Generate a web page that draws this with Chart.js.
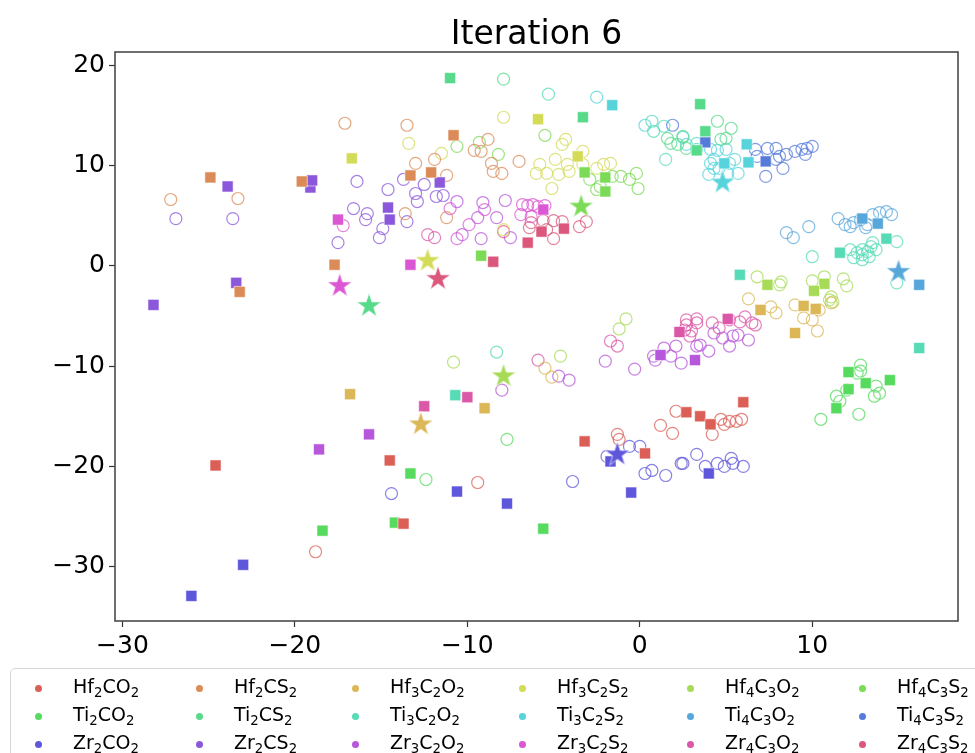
<!DOCTYPE html>
<html>
<head>
<meta charset="utf-8">
<script src="https://cdn.jsdelivr.net/npm/chart.js@4.4.1/dist/chart.umd.min.js"></script>
<style>
    html, body { margin: 0; padding: 0; background: #fff; }
    #wrap { position: relative; width: 975px; height: 753px; overflow: hidden; }
    #legend {
        position: absolute; left: 10px; top: 668px; width: 1000px; height: 120px;
        border: 1px solid #d6d6d6; border-radius: 5px;
        font-family: "DejaVu Sans", sans-serif; font-size: 19px; color: #000;
    }
    .item { position: absolute; white-space: nowrap; line-height: 19px; }
    .dot { position: absolute; width: 7px; height: 7px; border-radius: 50%; }
    sub { font-size: 0.7em; vertical-align: -0.3em; line-height: 0; }
</style>
</head>
<body>
<div id="wrap">
    <canvas id="chart" width="975" height="753"></canvas>
    <div id="legend"></div>
</div>
<script>
// material names, legend order
const materials = [
    "Hf2CO2", "Hf2CS2", "Hf3C2O2", "Hf3C2S2", "Hf4C3O2", "Hf4C3S2",
    "Ti2CO2", "Ti2CS2", "Ti3C2O2", "Ti3C2S2", "Ti4C3O2", "Ti4C3S2",
    "Zr2CO2", "Zr2CS2", "Zr3C2O2", "Zr3C2S2", "Zr4C3O2", "Zr4C3S2"
];

// hollow circles (candidate pool), one list per material
const pool = [
    // Hf2CO2
    [[-18.8, -28.5], [-9.4, -21.6], [-1.3, -16.8], [-1.2, -17.3], [1.2, -15.9], [1.9, -16.7], [2.1, -14.5],
     [4.7, -15.3], [5.2, -15.5], [5.6, -15.5], [5.9, -15.3], [4.2, -16.8], [4.9, -15.8]],
    // Hf2CS2
    [[-17.1, 14.2], [-13.5, 14.0], [-27.2, 6.6], [-23.3, 6.7], [-13.6, 5.2], [-8.8, 12.6], [-9.6, 11.5],
     [-9.2, 11.4], [-8.6, 10.2], [-8.5, 9.4], [-8.0, 9.2], [-7.0, 10.4], [-11.9, 10.6], [-13.0, 10.2],
     [-11.2, 9.0], [-11.2, 4.8]],
    // Hf3C2O2
    [[6.3, -3.3], [7.6, -4.1], [7.9, -4.7], [9.0, -3.9], [9.5, -5.2], [10.0, -5.4], [10.3, -6.5],
     [11.1, -3.7], [10.4, -4.4], [-5.5, -10.2], [-5.1, -11.1]],
    // Hf3C2S2
    [[-13.4, 12.2], [-7.9, 14.8], [-11.5, 11.2], [-7.9, 3.6], [-5.8, 10.1], [-4.9, 10.6], [-4.3, 12.6],
     [-4.5, 12.1], [-4.2, 10.1], [-3.3, 11.4], [-6.0, 9.2], [-5.4, 9.2], [-4.7, 9.1], [-4.1, 9.4],
     [-5.1, 7.7], [-2.5, 9.7], [-2.1, 10.1], [-1.7, 10.2], [-3.3, 10.1]],
    // Hf4C3O2
    [[6.8, -1.1], [8.1, -1.9], [8.2, -1.6], [10.0, -1.5], [10.7, -1.1], [11.8, -1.3], [12.0, -2.0],
     [11.1, -3.1], [11.2, -3.6], [11.0, -3.4], [-0.8, -5.3], [-1.2, -6.3], [-10.8, -9.6], [-4.6, -9.0]],
    // Hf4C3S2
    [[-9.3, 12.3], [-10.6, 11.9], [-8.2, 11.1], [-5.5, 13.0], [-2.9, 8.6], [-2.3, 7.9], [-1.6, 8.9],
     [-1.1, 8.9], [-0.6, 8.6], [-0.2, 9.2], [-0.1, 7.7], [-2.5, 7.6]],
    // Ti2CO2
    [[12.8, -9.9], [12.6, -10.7], [13.7, -12.0], [13.9, -12.7], [13.6, -13.0], [12.0, -12.4], [11.4, -13.0],
     [11.6, -13.5], [10.5, -15.3], [12.7, -14.8], [12.8, -10.5], [-7.7, -17.3], [-12.4, -21.3]],
    // Ti2CS2
    [[-7.9, 18.6], [4.5, 14.4], [5.3, 13.7], [5.0, 12.7], [4.7, 12.6], [1.6, 12.7], [1.8, 12.2],
     [2.2, 12.1], [2.5, 12.9], [2.7, 11.7]],
    // Ti3C2O2
    [[-5.3, 17.1], [0.7, 14.4], [0.8, 13.4], [1.4, 13.9], [3.3, 12.2], [3.3, 11.6], [1.5, 10.6],
     [10.0, 0.9], [12.2, 1.6], [12.6, 1.3], [12.9, 1.6], [13.2, 1.4], [13.4, 1.9], [13.7, 1.6],
     [12.4, 0.8], [12.9, 0.6], [13.3, 0.9], [13.5, 2.3], [14.9, 2.4], [12.9, 1.1], [14.9, -1.7], [-8.3, -8.6]],
    // Ti3C2S2
    [[-2.5, 16.8], [0.3, 14.0], [2.5, 12.8], [2.7, 12.1], [4.1, 11.6], [4.5, 11.5], [5.0, 11.6],
     [4.1, 10.2], [4.3, 10.6], [5.5, 10.6], [5.2, 10.2], [4.6, 9.7], [4.0, 9.1], [5.7, 9.2],
     [5.1, 9.2], [4.3, 9.7]],
    // Ti4C3O2
    [[8.5, 3.3], [8.9, 2.8], [9.8, 3.9], [11.5, 4.7], [11.9, 4.1], [12.4, 4.3], [12.8, 4.6],
     [13.2, 4.1], [13.5, 5.1], [13.9, 5.3], [14.3, 5.4], [14.6, 5.1], [13.1, 3.8], [12.2, 3.9]],
    // Ti4C3S2
    [[1.9, 14.0], [6.7, 11.6], [7.4, 11.7], [7.9, 11.7], [8.1, 10.9], [8.5, 11.1], [9.0, 11.4],
     [9.4, 11.6], [9.7, 11.7], [10.0, 11.9], [9.6, 11.1], [8.3, 9.7], [7.3, 8.9], [7.9, 10.6], [6.8, 10.9]],
    // Zr2CO2
    [[2.5, -19.7], [3.3, -18.8], [3.8, -20.0], [4.5, -19.7], [4.9, -20.0], [5.3, -19.2], [5.4, -19.7],
     [6.0, -20.0], [-0.6, -18.0], [0.0, -18.0], [-1.9, -19.0], [0.3, -20.7], [0.7, -20.4], [1.5, -20.9],
     [2.4, -19.7], [-3.9, -21.5], [-14.4, -22.7]],
    // Zr2CS2
    [[-26.9, 4.7], [-23.6, 4.7], [-16.4, 8.4], [-14.6, 7.6], [-13.7, 8.6], [-16.6, 5.7], [-15.8, 5.2],
     [-15.9, 4.6], [-13.5, 4.4], [-15.1, 2.8], [-17.5, 2.3], [-12.5, 8.1], [-13.0, 7.2], [-12.9, 6.4],
     [-11.8, 6.9], [-11.4, 7.0], [-14.9, 3.7]],
    // Zr3C2O2
    [[-10.6, 6.4], [-9.1, 6.3], [-9.4, 4.8], [-10.3, 3.1], [-9.2, 2.7], [-7.8, 6.5], [-8.3, 4.8],
     [-7.5, 2.8], [-2.0, -9.5], [-0.3, -10.3], [0.8, -9.0], [0.9, -9.4], [1.8, -9.0], [2.4, -9.7],
     [3.3, -8.0], [2.1, -8.0], [1.4, -8.2], [3.5, -7.9], [4.3, -6.7], [4.8, -7.2], [5.4, -7.0],
     [5.7, -6.9], [6.3, -7.4], [5.2, -8.0], [4.0, -8.5], [-8.0, -12.4], [-4.7, -11.0], [-4.1, -11.4]],
    // Zr3C2S2
    [[-17.2, 4.0], [-11.0, 5.7], [-9.0, 5.6], [-9.9, 4.1], [-10.6, 2.7], [-6.8, 6.1], [-6.5, 6.0],
     [-6.2, 6.1], [-5.9, 5.9], [-5.5, 6.0], [-6.9, 5.1], [-6.3, 4.9]],
    // Zr4C3O2
    [[-12.3, 3.1], [-11.9, 2.8], [-1.7, -7.5], [-1.3, -8.0], [-5.9, -9.4], [2.7, -5.4], [3.3, -5.3],
     [4.2, -5.7], [4.6, -6.2], [5.2, -5.4], [5.8, -5.6], [6.1, -5.1], [6.5, -5.7], [6.7, -5.9],
     [2.6, -6.4], [2.7, -5.9], [3.0, -6.5], [3.3, -5.7], [2.9, -7.0]],
    // Zr4C3S2
    [[-6.3, 4.3], [-5.6, 4.5], [-5.0, 4.5], [-4.5, 4.4], [-3.5, 3.9], [-3.1, 4.4], [-5.4, 3.6],
     [-5.0, 2.7], [-7.9, 3.4], [-6.4, 3.8]]
];

// filled squares (selected samples)
const picked = [
    [[-24.6, -19.9], [-14.5, -19.4], [-13.7, -25.7], [-3.2, -17.5], [0.3, -18.7], [2.7, -14.6], [3.5, -15.0], [4.1, -15.8], [6.0, -13.6]],
    [[-24.9, 8.8], [-19.6, 8.4], [-17.7, 0.1], [-23.2, -2.6], [-10.8, 13.0], [-13.3, 9.0], [-12.1, 9.3]],
    [[7.0, -4.4], [9.5, -4.0], [10.2, -4.3], [9.0, -6.7], [-16.8, -12.8], [-9.0, -14.2]],
    [[-16.7, 10.7], [-5.9, 14.6], [-3.6, 10.9]],
    [[7.4, -1.9], [10.7, -1.8], [10.1, -2.5]],
    [[-3.2, 9.3], [-2.0, 8.8], [-2.0, 7.4], [-9.2, 1.0]],
    [[12.1, -10.6], [12.1, -12.3], [13.1, -11.7], [14.5, -11.4], [11.4, -14.2], [-13.3, -20.7], [-5.6, -26.2], [-14.2, -25.6], [-18.4, -26.4]],
    [[-11.0, 18.7], [-3.3, 14.8], [3.5, 16.1], [3.8, 13.4], [3.3, 11.5]],
    [[11.6, 1.3], [14.3, 2.7], [5.8, -0.9], [16.2, -8.2], [-10.7, -12.9]],
    [[-1.6, 16.0], [4.9, 10.2], [6.2, 12.1], [6.3, 10.3]],
    [[12.9, 4.7], [13.8, 4.2], [16.2, -1.9]],
    [[3.8, 12.3], [7.3, 10.4]],
    [[4.0, -20.7], [-0.5, -22.6], [-7.7, -23.7], [-10.6, -22.5], [-23.0, -29.8], [-26.0, -32.9], [-1.7, -19.5]],
    [[-23.9, 7.9], [-19.1, 7.8], [-19.0, 8.5], [-14.6, 5.8], [-14.5, 4.6], [-11.6, 8.3], [-23.4, -1.7], [-28.2, -3.9]],
    [[1.2, -8.9], [3.2, -9.4], [-15.7, -16.8], [-18.6, -18.3]],
    [[-17.5, 4.6], [-5.6, 5.6], [-13.3, 0.1]],
    [[2.3, -6.6], [5.1, -5.3], [-10.0, -13.1], [-12.5, -14.0]],
    [[-5.7, 3.4], [-4.4, 3.7], [-6.5, 2.3], [-8.5, 0.4]]
];

// stars (best of iteration), null where none is visible
const best = [
    null, null, [-12.7, -15.7], [-12.3, 0.6], [-7.9, -10.9], [-3.4, 6.0],
    null, [-15.7, -3.9], null, [4.8, 8.4], [15.0, -0.5], null,
    [-1.3, -18.7], null, null, [-17.4, -1.9], null, [-11.7, -1.2]
];

const xTicks = [-30, -20, -10, 0, 10];
const yTicks = [-30, -20, -10, 0, 10, 20];

// seaborn hls(18) colours
const palette = [
    "#db5f57", "#db8b57", "#dbb757", "#d3db57", "#a7db57", "#7bdb57",
    "#57db5f", "#57db8b", "#57dbb7", "#57d3db", "#57a7db", "#577bdb",
    "#5f57db", "#8b57db", "#b757db", "#db57d3", "#db57a7", "#db577b"
];

function withAlpha(hex, a) {
    const n = parseInt(hex.slice(1), 16);
    return `rgba(${n >> 16},${(n >> 8) & 255},${n & 255},${a})`;
}

// filled 5-point star as a point image
function starImage(color) {
    const c = document.createElement("canvas");
    c.width = 28; c.height = 28;
    const g = c.getContext("2d");
    const R = 13, r = R * 0.382;
    g.beginPath();
    for (let k = 0; k < 10; k++) {
        const rad = k % 2 ? r : R;
        const a = -Math.PI / 2 + k * Math.PI / 5;
        g.lineTo(14 + rad * Math.cos(a), 15 + rad * Math.sin(a));
    }
    g.closePath();
    g.fillStyle = color;
    g.fill();
    g.strokeStyle = "rgba(255,255,255,0.8)";
    g.lineWidth = 0.8;
    g.stroke();
    return c;
}

const toPts = arr => arr.map(([x, y]) => ({ x, y }));

let datasets = [];
materials.forEach((name, i) => {
    datasets.push({
        label: name,
        data: toPts(pool[i]),
        pointStyle: "circle",
        pointRadius: 6,
        borderWidth: 1.2,
        borderColor: withAlpha(palette[i], 0.75),
        backgroundColor: "rgba(0,0,0,0)",
        order: 2
    });
    datasets.push({
        label: name + " picked",
        data: toPts(picked[i]),
        pointStyle: "rect",
        pointRadius: 7.8,
        borderWidth: 0.8,
        borderColor: "rgba(255,255,255,0.7)",
        backgroundColor: palette[i],
        order: 1
    });
    if (best[i]) {
        datasets.push({
            label: name + " best",
            data: toPts([best[i]]),
            pointStyle: starImage(palette[i]),
            pointRadius: 13,
            order: 0
        });
    }
});

const fmt = v => (v < 0 ? "\u2212" + Math.abs(v) : String(v));

// title + full frame drawn around the plot area
const framePlugin = {
    id: "frame",
    afterDraw(chart) {
        const { ctx, chartArea: a } = chart;
        ctx.save();
        ctx.strokeStyle = "#4a4a4a";
        ctx.lineWidth = 1.6;
        ctx.strokeRect(a.left, a.top, a.right - a.left, a.bottom - a.top);
        ctx.fillStyle = "#000";
        ctx.font = '33px "DejaVu Sans"';
        ctx.textAlign = "center";
        ctx.textBaseline = "alphabetic";
        ctx.fillText("Iteration 6", (a.left + a.right) / 2, 43.5);
        ctx.restore();
    }
};

new Chart(document.getElementById("chart").getContext("2d"), {
    type: "scatter",
    data: { datasets },
    options: {
        responsive: false,
        animation: false,
        events: [],
        layout: { padding: { top: 52, right: 17, left: 0, bottom: 0 } },
        plugins: { legend: { display: false }, tooltip: { enabled: false } },
        scales: {
            x: {
                type: "linear",
                min: -30.43, max: 18.45,
                afterFit: s => { s.height = 132; },
                afterBuildTicks: s => { s.ticks = xTicks.map(v => ({ value: v })); },
                ticks: {
                    includeBounds: false, padding: 4, color: "#000",
                    font: { family: "DejaVu Sans", size: 25 },
                    callback: fmt, maxRotation: 0
                },
                grid: { drawOnChartArea: false, tickLength: 6, color: "#333", tickWidth: 1.2 },
                border: { display: false }
            },
            y: {
                type: "linear",
                min: -35.4, max: 21.3,
                afterFit: s => { s.width = 115; },
                afterBuildTicks: s => { s.ticks = yTicks.map(v => ({ value: v })); },
                ticks: {
                    includeBounds: false, padding: 4, color: "#000",
                    font: { family: "DejaVu Sans", size: 25 },
                    callback: fmt
                },
                grid: { drawOnChartArea: false, tickLength: 6, color: "#333", tickWidth: 1.2 },
                border: { display: false }
            }
        }
    },
    plugins: [framePlugin]
});

// legend laid out in matplotlib's 6-column grid
const colX = [37, 198, 354, 521, 689, 861];
const rowY = [687, 715, 743];
const legend = document.getElementById("legend");
materials.forEach((name, i) => {
    const cx = colX[i % 6] - 10, cy = rowY[Math.floor(i / 6)] - 668;
    const dot = document.createElement("div");
    dot.className = "dot";
    dot.style.background = palette[i];
    dot.style.left = (cx - 3.5) + "px";
    dot.style.top = (cy - 3.5) + "px";
    legend.appendChild(dot);
    const item = document.createElement("div");
    item.className = "item";
    item.style.left = (cx + 35) + "px";
    item.style.top = (cy - 11) + "px";
    item.innerHTML = name.replace(/(\d)/g, "<sub>$1</sub>");
    legend.appendChild(item);
});
</script>
</body>
</html>
